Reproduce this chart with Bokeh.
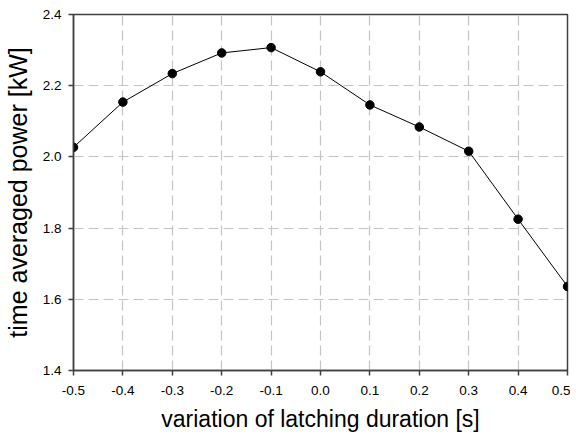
from bokeh.plotting import figure
from bokeh.models import FixedTicker, Range1d
from bokeh.embed import file_html
from bokeh.resources import INLINE

# data
latching_variation = [-0.5, -0.4, -0.3, -0.2, -0.1, 0.0, 0.1, 0.2, 0.3, 0.4, 0.5]
avg_power = [2.027, 2.154, 2.234, 2.292, 2.307, 2.239, 2.146, 2.084, 2.016, 1.825, 1.636]

x_ticks = [-0.5, -0.4, -0.3, -0.2, -0.1, 0.0, 0.1, 0.2, 0.3, 0.4, 0.5]
x_tick_labels = ["-0.5", "-0.4", "-0.3", "-0.2", "-0.1", "0.0", "0.1", "0.2", "0.3", "0.4", "0.5"]
y_ticks = [1.4, 1.6, 1.8, 2.0, 2.2, 2.4]
y_tick_labels = ["1.4", "1.6", "1.8", "2.0", "2.2", "2.4"]

FONT = "Liberation Sans"

p = figure(width=570, height=434, output_backend="svg", toolbar_location=None,
           x_range=Range1d(-0.5, 0.5), y_range=Range1d(1.4, 2.4),
           min_border_left=72, min_border_right=3, min_border_top=14, min_border_bottom=60)

p.background_fill_color = "white"
p.border_fill_color = "white"
p.outline_line_color = "#404040"
p.outline_line_width = 1.5

p.line(latching_variation, avg_power, line_color="black", line_width=1)
p.scatter(latching_variation, avg_power, size=8.5, fill_color="black", line_color="black")

for ax in (p.xaxis[0], p.yaxis[0]):
    ax.axis_line_color = "#404040"
    ax.axis_line_width = 1.5
    ax.major_tick_line_color = "#404040"
    ax.major_tick_line_width = 1.5
    ax.major_tick_out = 5
    ax.major_tick_in = 0
    ax.minor_tick_line_color = None
    ax.major_label_text_font = FONT
    ax.major_label_text_font_size = "13.5px"
    ax.major_label_text_color = "black"
    ax.axis_label_text_font = FONT
    ax.axis_label_text_font_style = "normal"
    ax.axis_label_text_color = "black"

p.xaxis.axis_label_text_font_size = "23px"
p.yaxis.axis_label_text_font_size = "25px"

p.xaxis.ticker = FixedTicker(ticks=x_ticks)
p.xaxis.major_label_overrides = dict(zip(x_ticks, x_tick_labels))
p.yaxis.ticker = FixedTicker(ticks=y_ticks)
p.yaxis.major_label_overrides = dict(zip(y_ticks, y_tick_labels))
p.xaxis.axis_label = "variation of latching duration [s]"
p.yaxis.axis_label = "time averaged power [kW]"
p.xaxis.major_label_standoff = 10
p.yaxis.major_label_standoff = 7
p.xaxis.axis_label_standoff = 8
p.yaxis.axis_label_standoff = 8

for g in (p.xgrid[0], p.ygrid[0]):
    g.grid_line_color = "#c4c4c4"
    g.grid_line_width = 1.2
    g.grid_line_dash = "10 5"

open("out.html", "w").write(file_html(p, INLINE))
